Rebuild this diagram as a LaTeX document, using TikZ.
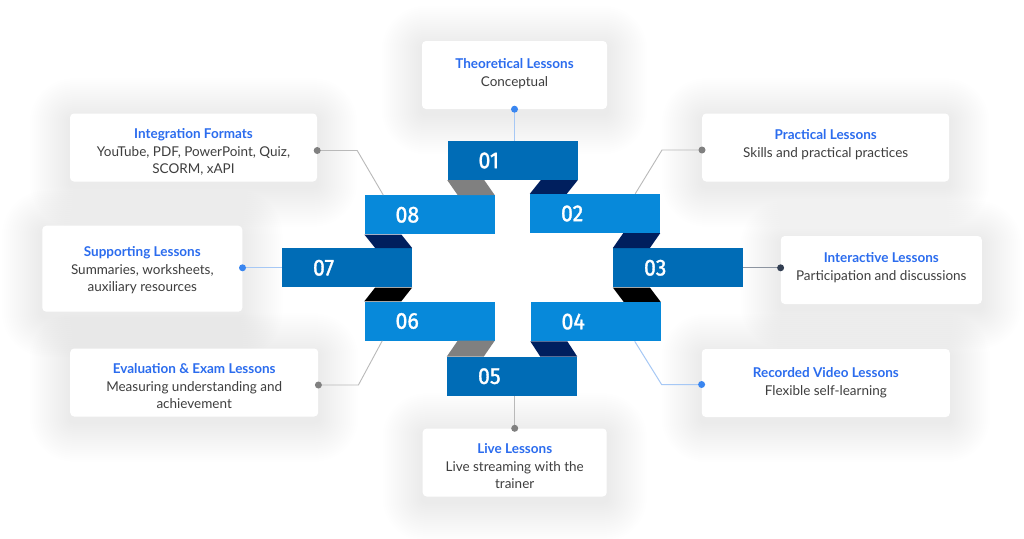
\documentclass[tikz,border=0pt]{standalone}
\usepackage{fontspec}
\setmainfont{Lato}
\newfontfamily\numfont[FakeBold=1.4, FakeStretch=0.93]{Fira Sans}
\usetikzlibrary{backgrounds}
\definecolor{ribdark}{RGB}{0,108,182}
\definecolor{riblight}{RGB}{7,137,218}
\definecolor{foldnavy}{RGB}{0,31,94}
\definecolor{foldgray}{RGB}{128,128,128}
\definecolor{titleblue}{RGB}{43,108,238}
\definecolor{bodygray}{RGB}{62,62,62}
\definecolor{dotblue}{RGB}{58,134,240}
\definecolor{lineblue}{RGB}{166,200,245}
\definecolor{dotgray}{RGB}{128,128,128}
\definecolor{linegray}{RGB}{185,185,185}
\definecolor{dotdark}{RGB}{50,62,82}
\definecolor{linedark}{RGB}{140,148,160}
\newcommand{\cardtitle}[1]{{\bfseries\color{titleblue}#1}}
\newcommand{\cardtext}[3][42pt]{\vbox to #1{\hbox{\begin{tabular}{@{}c@{}}\cardtitle{#2}\\[1pt]#3\end{tabular}}\vfil}}

\tikzset{
  ribbon/.style={rectangle, minimum height=39pt, inner ysep=0pt, inner xsep=31pt,
    text width=68pt, align=left, text=white, font=\numfont\fontsize{23}{23}\selectfont},
  card/.style={rectangle, rounded corners=4pt, fill=white, minimum height=68pt,
    inner sep=0pt, text=bodygray, font=\fontsize{13.5}{17}\selectfont},
  bluelink/.style={draw=lineblue, line width=1pt},
  graylink/.style={draw=linegray, line width=0.9pt},
  darklink/.style={draw=linedark, line width=0.9pt}
}

\begin{document}
\begin{tikzpicture}[x=1pt, y=-1pt]

    \useasboundingbox (0,0) rectangle (1024,538);

    % ribbons
    \node[ribbon, fill=ribdark] (r01) at (512.5,160.5) {01};
    \node[ribbon, fill=riblight] (r02) at (595,213.5) {02};
    \node[ribbon, fill=ribdark] (r03) at (678,267.8) {03};
    \node[ribbon, fill=riblight] (r04) at (595.5,321.6) {04};
    \node[ribbon, fill=ribdark] (r05) at (512,376.2) {05};
    \node[ribbon, fill=riblight] (r06) at (429.5,321) {06};
    \node[ribbon, fill=ribdark] (r07) at (347,267.8) {07};
    \node[ribbon, fill=riblight] (r08) at (429.5,214.8) {08};

    % folds
    \fill[foldnavy] (r01.south east) -- ([xshift=-37pt]r01.south east) -- (r02.north west) -- ([xshift=37pt]r02.north west) -- cycle;
    \fill[foldnavy] (r02.south east) -- ([xshift=-37pt]r02.south east) -- (r03.north west) -- ([xshift=37pt]r03.north west) -- cycle;
    \fill[black] (r03.south west) -- ([xshift=37pt]r03.south west) -- (r04.north east) -- ([xshift=-37pt]r04.north east) -- cycle;
    \fill[foldnavy] (r04.south west) -- ([xshift=37pt]r04.south west) -- (r05.north east) -- ([xshift=-37pt]r05.north east) -- cycle;
    \fill[foldgray] (r06.south east) -- ([xshift=-37pt]r06.south east) -- (r05.north west) -- ([xshift=37pt]r05.north west) -- cycle;
    \fill[black] (r07.south east) -- ([xshift=-37pt]r07.south east) -- (r06.north west) -- ([xshift=37pt]r06.north west) -- cycle;
    \fill[foldnavy] (r08.south west) -- ([xshift=37pt]r08.south west) -- (r07.north east) -- ([xshift=-37pt]r07.north east) -- cycle;
    \fill[foldgray] (r01.south west) -- ([xshift=37pt]r01.south west) -- (r08.north east) -- ([xshift=-37pt]r08.north east) -- cycle;

    % cards
    \node[card, minimum width=185pt] (c1) at (514.5,75) {\cardtext[36pt]{Theoretical Lessons}{Conceptual}};
    \node[card, minimum width=247pt] (c2) at (825.7,147.5) {\cardtext[40pt]{Practical Lessons}{Skills and practical practices}};
    \node[card, minimum width=201pt] (c3) at (881.3,270) {\cardtext[38pt]{Interactive Lessons}{Participation and discussions}};
    \node[card, minimum width=248pt] (c4) at (825.8,383) {\cardtext[34pt]{Recorded Video Lessons}{Flexible self-learning}};
    \node[card, minimum width=184pt] (c5) at (514.7,462.5) {\cardtext{Live Lessons}{Live streaming with the\\trainer}};
    \node[card, minimum width=248pt] (c6) at (194.2,382.5) {\cardtext{Evaluation \& Exam Lessons}{Measuring understanding and\\achievement}};
    \node[card, minimum width=200pt, minimum height=86pt] (c7) at (142.3,268.7) {\cardtext[48pt]{Supporting Lessons}{Summaries, worksheets,\\auxiliary resources}};
    \node[card, minimum width=247pt] (c8) at (193.5,147.5) {\cardtext{Integration Formats}{YouTube, PDF, PowerPoint, Quiz,\\SCORM, xAPI}};

    % soft shadows
    \begin{scope}[on background layer]
        \fill[white] (0,0) rectangle (1024,538);
        \foreach \n in {1,...,8} {
            \foreach \i in {1,...,20} {
                \pgfmathsetmacro{\rc}{4 + 2 * \i};
                \fill[black, opacity=0.0045, rounded corners=\rc pt]
                ([shift={(-2*\i,-2*\i+5)}]c\n.north west) rectangle ([shift={(2*\i,2*\i+5)}]c\n.south east);
            }
        }
    \end{scope}

    % connectors
    \draw[bluelink] (c1.south) -- (c1.south |- r01.north);
    \fill[dotblue] (c1.south) circle (3.5pt);

    \draw[graylink] ([yshift=-2.5pt]c2.west) -- ++(-40,0) -- ([xshift=-25pt]r02.north east);
    \fill[dotgray] ([yshift=-2.5pt]c2.west) circle (3.5pt);

    \draw[darklink] (r03.east) -- (r03.east -| c3.west);
    \fill[dotdark] (r03.east -| c3.west) circle (3.5pt);

    \draw[bluelink] ([yshift=-1.5pt]c4.west) -- ++(-40,0) -- ([xshift=-26pt]r04.south east);
    \fill[dotblue] ([yshift=-1.5pt]c4.west) circle (3.5pt);

    \draw[graylink] (c5.north) -- (c5.north |- r05.south);
    \fill[dotgray] (c5.north) circle (3.5pt);

    \draw[graylink] ([yshift=-2.5pt]c6.east) -- ++(40,0) -- ([xshift=18pt]r06.south west);
    \fill[dotgray] ([yshift=-2.5pt]c6.east) circle (3.5pt);

    \draw[bluelink] (r07.west) -- (r07.west -| c7.east);
    \fill[dotblue] (r07.west -| c7.east) circle (3.5pt);

    \draw[graylink] ([yshift=-3pt]c8.east) -- ++(40,0) -- ([xshift=19pt]r08.north west);
    \fill[dotgray] ([yshift=-3pt]c8.east) circle (3.5pt);

\end{tikzpicture}
\end{document}
